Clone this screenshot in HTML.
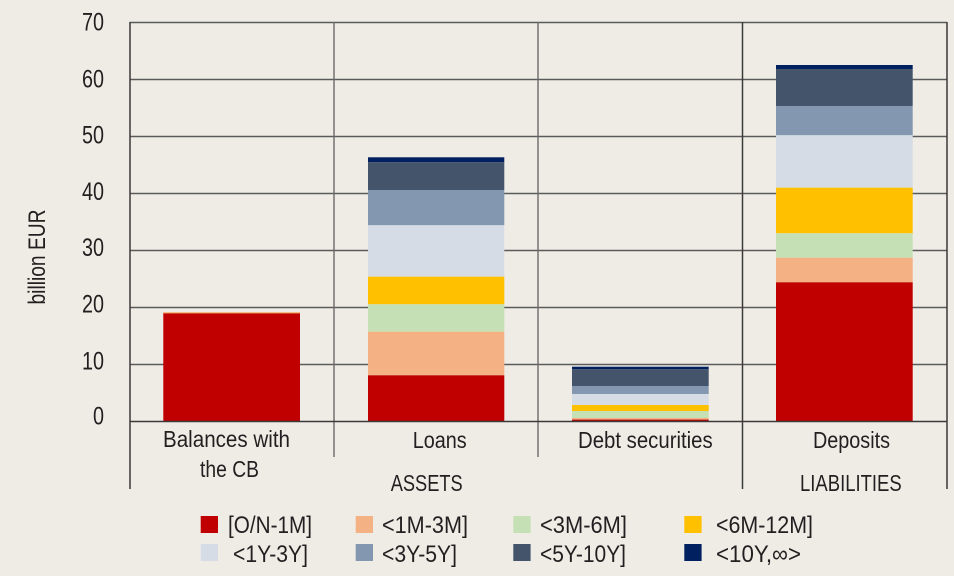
<!DOCTYPE html>
<html>
<head>
<meta charset="utf-8">
<style>
html,body{margin:0;padding:0;background:#EFECE6;}
svg{display:block;}
text{font-family:"Liberation Sans Narrow","Liberation Sans",sans-serif;fill:#231F20;}
</style>
</head>
<body>
<svg width="954" height="576" viewBox="0 0 954 576" xmlns="http://www.w3.org/2000/svg">
<rect x="0" y="0" width="954" height="576" fill="#EFECE6"/>
<!-- gridlines -->
<g stroke="#5a5a5a" stroke-width="1.4">
<line x1="130" y1="22.5" x2="947" y2="22.5"/>
<line x1="130" y1="79.5" x2="947" y2="79.5"/>
<line x1="130" y1="136.5" x2="947" y2="136.5"/>
<line x1="130" y1="193.5" x2="947" y2="193.5"/>
<line x1="130" y1="250.5" x2="947" y2="250.5"/>
<line x1="130" y1="307.5" x2="947" y2="307.5"/>
<line x1="130" y1="364.5" x2="947" y2="364.5"/>
</g>
<g stroke="#6a6a6a" stroke-width="1.4">
<line x1="334" y1="22" x2="334" y2="457"/>
<line x1="538" y1="22" x2="538" y2="457"/>
</g>
<g stroke="#3a3a3a" stroke-width="1.5">
<line x1="742.5" y1="22" x2="742.5" y2="489"/>
<line x1="130" y1="22" x2="130" y2="489"/>
<line x1="947" y1="22" x2="947" y2="489"/>
</g>
<!-- Balances -->
<rect x="163.3" y="312.7" width="136.7" height="108.8" fill="#C00000"/>
<rect x="163.3" y="312.2" width="136.7" height="1.2" fill="#F2B26B"/>
<!-- Loans -->
<g>
<rect x="368" y="157.3" width="136.3" height="5" fill="#002060"/>
<rect x="368" y="162.3" width="136.3" height="27.7" fill="#44546A"/>
<rect x="368" y="190" width="136.3" height="35.3" fill="#8497B0"/>
<rect x="368" y="225.3" width="136.3" height="51.4" fill="#D6DCE5"/>
<rect x="368" y="276.7" width="136.3" height="27.6" fill="#FFC000"/>
<rect x="368" y="304.3" width="136.3" height="27.4" fill="#C5E0B4"/>
<rect x="368" y="331.7" width="136.3" height="43.6" fill="#F4B183"/>
<rect x="368" y="375.3" width="136.3" height="46.2" fill="#C00000"/>
</g>
<!-- Debt securities -->
<g>
<rect x="572" y="366.7" width="136.7" height="2.6" fill="#002060"/>
<rect x="572" y="369.3" width="136.7" height="16.7" fill="#44546A"/>
<rect x="572" y="386" width="136.7" height="8" fill="#8497B0"/>
<rect x="572" y="394" width="136.7" height="11" fill="#D6DCE5"/>
<rect x="572" y="405" width="136.7" height="6" fill="#FFC000"/>
<rect x="572" y="411" width="136.7" height="7" fill="#C5E0B4"/>
<rect x="572" y="418" width="136.7" height="1.6" fill="#F4B183"/>
<rect x="572" y="419.6" width="136.7" height="1.9" fill="#C00000"/>
</g>
<!-- Deposits -->
<g>
<rect x="776" y="65" width="136.7" height="4" fill="#002060"/>
<rect x="776" y="69" width="136.7" height="37" fill="#44546A"/>
<rect x="776" y="106" width="136.7" height="29.3" fill="#8497B0"/>
<rect x="776" y="135.3" width="136.7" height="52.4" fill="#D6DCE5"/>
<rect x="776" y="187.7" width="136.7" height="45.6" fill="#FFC000"/>
<rect x="776" y="233.3" width="136.7" height="24.4" fill="#C5E0B4"/>
<rect x="776" y="257.7" width="136.7" height="24.6" fill="#F4B183"/>
<rect x="776" y="282.3" width="136.7" height="139.2" fill="#C00000"/>
</g>
<!-- zero line -->
<line x1="130" y1="421.5" x2="947" y2="421.5" stroke="#3a3a3a" stroke-width="1.5"/>
<!-- y tick labels -->
<g font-size="25" text-anchor="end">
<text x="104" y="30.7" textLength="22" lengthAdjust="spacingAndGlyphs">70</text>
<text x="104" y="87.3" textLength="22" lengthAdjust="spacingAndGlyphs">60</text>
<text x="104" y="143.3" textLength="22" lengthAdjust="spacingAndGlyphs">50</text>
<text x="104" y="200" textLength="22" lengthAdjust="spacingAndGlyphs">40</text>
<text x="104" y="256" textLength="22" lengthAdjust="spacingAndGlyphs">30</text>
<text x="104" y="312.7" textLength="22" lengthAdjust="spacingAndGlyphs">20</text>
<text x="104" y="369.3" textLength="22" lengthAdjust="spacingAndGlyphs">10</text>
<text x="104" y="424.3" textLength="11" lengthAdjust="spacingAndGlyphs">0</text>
</g>
<!-- y axis label -->
<text transform="translate(45,257) rotate(-90)" font-size="24" text-anchor="middle" textLength="95" lengthAdjust="spacingAndGlyphs">billion EUR</text>
<!-- category labels -->
<g font-size="23.5">
<text x="163" y="447" textLength="127" lengthAdjust="spacingAndGlyphs">Balances with</text>
<text x="200" y="477" textLength="59" lengthAdjust="spacingAndGlyphs">the CB</text>
<text x="412.7" y="448" textLength="54" lengthAdjust="spacingAndGlyphs">Loans</text>
<text x="578" y="448" textLength="134.7" lengthAdjust="spacingAndGlyphs">Debt securities</text>
<text x="813" y="448" textLength="77" lengthAdjust="spacingAndGlyphs">Deposits</text>
<text x="390.7" y="491" textLength="72" lengthAdjust="spacingAndGlyphs">ASSETS</text>
<text x="800" y="491" textLength="101.7" lengthAdjust="spacingAndGlyphs">LIABILITIES</text>
</g>
<!-- legend -->
<g>
<rect x="200.7" y="516" width="17.3" height="17" fill="#C00000"/>
<rect x="355.7" y="516" width="17.3" height="17" fill="#F4B183"/>
<rect x="513.3" y="516" width="17.3" height="17" fill="#C5E0B4"/>
<rect x="684.3" y="516" width="17.3" height="17" fill="#FFC000"/>
<rect x="200.7" y="544" width="17.3" height="17" fill="#D6DCE5"/>
<rect x="355.7" y="544" width="17.3" height="17" fill="#8497B0"/>
<rect x="513.3" y="544" width="17.3" height="17" fill="#44546A"/>
<rect x="684.3" y="544" width="17.3" height="17" fill="#002060"/>
</g>
<g font-size="24">
<text x="228" y="533" textLength="84" lengthAdjust="spacingAndGlyphs">[O/N-1M]</text>
<text x="382" y="533" textLength="86" lengthAdjust="spacingAndGlyphs">&lt;1M-3M]</text>
<text x="540" y="533" textLength="87" lengthAdjust="spacingAndGlyphs">&lt;3M-6M]</text>
<text x="716" y="533" textLength="97" lengthAdjust="spacingAndGlyphs">&lt;6M-12M]</text>
<text x="233" y="562" textLength="75" lengthAdjust="spacingAndGlyphs">&lt;1Y-3Y]</text>
<text x="382" y="562" textLength="75" lengthAdjust="spacingAndGlyphs">&lt;3Y-5Y]</text>
<text x="540" y="562" textLength="86" lengthAdjust="spacingAndGlyphs">&lt;5Y-10Y]</text>
<text x="716" y="562" textLength="85" lengthAdjust="spacingAndGlyphs">&lt;10Y,∞&gt;</text>
</g>
</svg>
</body>
</html>
